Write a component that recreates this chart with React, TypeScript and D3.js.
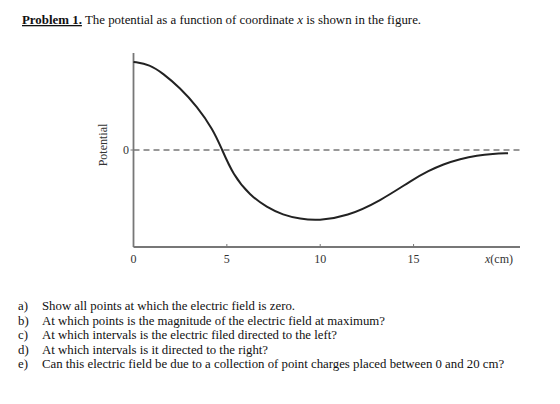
import React from "react";
import * as d3 from "d3";

const xs = [0, 0.88, 1.58, 2.49, 3.4, 4.26, 4.69, 5.33, 6.24, 7.15, 8.0, 8.92, 9.9, 11.44, 13.2, 14.97, 15.8, 16.58, 17.5, 18.4, 19.25, 20.06];
const vs = [0.99, 0.96, 0.86, 0.70, 0.49, 0.23, 0.03, -0.28, -0.51, -0.645, -0.73, -0.775, -0.795, -0.745, -0.575, -0.33, -0.235, -0.16, -0.1, -0.06, -0.042, -0.036];
const xTicks = [0, 5, 10, 15];
const questions = [
  ["a)", "Show all points at which the electric field is zero."],
  ["b)", "At which points is the magnitude of the electric field at maximum?"],
  ["c)", "At which intervals is the electric filed directed to the left?"],
  ["d)", "At which intervals is it directed to the right?"],
  ["e)", "Can this electric field be due to a collection of point charges placed between 0 and 20 cm?"],
];

export default function App() {
  const x = d3.scaleLinear().domain([0, 20.7]).range([133.5, 520]);
  const y = d3.scaleLinear().domain([-1.09, 1.09]).range([247, 53]);
  const pts = xs.map((v, i) => [v, vs[i]] as [number, number]);
  const line = d3
    .line<[number, number]>()
    .x((d) => x(d[0]))
    .y((d) => y(d[1]))
    .curve(d3.curveBasis);
  const font = "'Liberation Serif', 'Times New Roman', serif";
  return (
    <svg
      width={560}
      height={404}
      style={{ position: "absolute", left: 0, top: 0, background: "#fff" }}
      fontFamily={font}
    >
      <text x={22} y={24} fontSize={12.9} fill="#111">
        <tspan fontWeight="bold" textDecoration="underline">Problem 1.</tspan>
        <tspan> The potential as a function of coordinate </tspan>
        <tspan fontStyle="italic">x</tspan>
        <tspan> is shown in the figure.</tspan>
      </text>
      <line
        x1={x(0)}
        x2={x(20.7)}
        y1={y(0)}
        y2={y(0)}
        stroke="#777"
        strokeWidth={1.5}
        strokeDasharray="6,4"
      />
      <line x1={x(0)} x2={x(0)} y1={y(1.09)} y2={y(-1.09)} stroke="#777" strokeWidth={1.8} />
      <line x1={x(0)} x2={x(20.7)} y1={y(-1.09)} y2={y(-1.09)} stroke="#777" strokeWidth={1.8} />
      {xTicks.slice(1).map((t) => (
        <line key={t} x1={x(t)} x2={x(t)} y1={y(-1.09)} y2={y(-1.09) - 3} stroke="#777" strokeWidth={1} />
      ))}
      <line x1={x(0)} x2={x(0) - 3} y1={y(0)} y2={y(0)} stroke="#777" strokeWidth={1} />
      {xTicks.map((t) => (
        <text key={t} x={x(t)} y={263} fontSize={12} textAnchor="middle" fill="#333">
          {t}
        </text>
      ))}
      <text x={485} y={263} fontSize={12} fill="#333">
        <tspan fontStyle="italic">x</tspan>(cm)
      </text>
      <text x={126} y={y(0) + 4} fontSize={12} textAnchor="middle" fill="#333">0</text>
      <text
        transform={`translate(107,145) rotate(-90)`}
        fontSize={12}
        textAnchor="middle"
        fill="#333"
      >
        Potential
      </text>
      <path d={line(pts) || ""} fill="none" stroke="#222" strokeWidth={2} />
      {questions.map((q, i) => (
        <g key={i} fontSize={12.8} fill="#111">
          <text x={18} y={310 + i * 14.6}>{q[0]}</text>
          <text x={42} y={310 + i * 14.6}>{q[1]}</text>
        </g>
      ))}
    </svg>
  );
}
